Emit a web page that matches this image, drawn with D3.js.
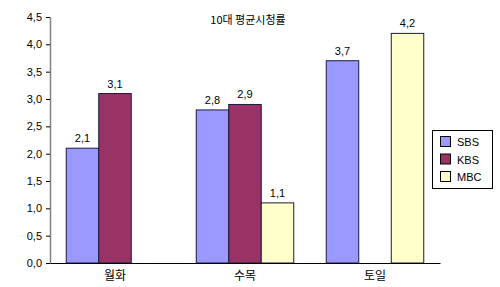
<!DOCTYPE html>
<html><head><meta charset="utf-8">
<script src="https://cdn.jsdelivr.net/npm/d3@7"></script>
<style>body{margin:0;background:#fff}svg{display:block}</style>
</head><body>
<script>
const categories = ["월화", "수목", "토일"];
const seriesNames = ["SBS", "KBS", "MBC"];
const sbsValues = [2.1, 2.8, 3.7];
const kbsValues = [3.1, 2.9, null];
const mbcValues = [null, 1.1, 4.2];
const yTicks = [0, 0.5, 1.0, 1.5, 2.0, 2.5, 3.0, 3.5, 4.0, 4.5];
const title = "10대 평균시청률";
const colors = ["#9999FF", "#993366", "#FFFFCC"];

const W = 500, H = 287;
const svg = d3.select("body").append("svg").attr("width", W).attr("height", H);
const x0 = d3.scaleBand().domain(categories).range([50, 440]).paddingInner(0).paddingOuter(0);
const x1 = d3.scaleBand().domain(seriesNames).range([16.25, 130 - 16.25]);
const y = d3.scaleLinear().domain([0, 4.5]).range([263, 17]);
const fmt = v => d3.format(".1f")(v).replace(".", ",");
const numFont = "Liberation Sans, Arial, sans-serif";
const krFont = "Noto Sans CJK KR, sans-serif";

// y axis
const yAxis = d3.axisLeft(y).tickValues(yTicks).tickSize(4).tickSizeOuter(0).tickFormat(fmt).tickPadding(4);
const ga = svg.append("g").attr("transform", "translate(50,0)").call(yAxis);
ga.select(".domain").attr("stroke", "#808080").attr("stroke-width", 1.5);
ga.selectAll(".tick line").attr("stroke", "#000");
ga.selectAll(".tick text").attr("font-family", numFont).attr("font-size", 11).attr("fill", "#000");

const allSeries = [sbsValues, kbsValues, mbcValues];
const data = [];
categories.forEach((c, i) => seriesNames.forEach((s, j) => {
  const v = allSeries[j][i];
  if (v != null) data.push({c, s, v, j});
}));

svg.append("g").selectAll("rect").data(data).join("rect")
  .attr("x", d => x0(d.c) + x1(d.s))
  .attr("y", d => y(d.v))
  .attr("width", x1.bandwidth())
  .attr("height", d => y(0) - y(d.v))
  .attr("fill", d => colors[d.j])
  .attr("stroke", "#1a1a40").attr("stroke-width", 1);

svg.append("g").selectAll("text").data(data).join("text")
  .attr("x", d => x0(d.c) + x1(d.s) + x1.bandwidth() / 2)
  .attr("y", d => y(d.v) - 6)
  .attr("text-anchor", "middle")
  .attr("font-family", numFont).attr("font-size", 11)
  .text(d => fmt(d.v));

// x axis baseline
const xAxis = d3.axisBottom(x0).tickSize(0).tickPadding(8);
const gx = svg.append("g").attr("transform", "translate(0,263)").call(xAxis);
gx.select(".domain").attr("stroke", "#000").attr("stroke-width", 1.2);
gx.selectAll(".tick text").attr("font-family", krFont).attr("font-size", 12).attr("fill", "#000");

// title
svg.append("text").attr("x", 248).attr("y", 24).attr("text-anchor", "middle")
  .attr("font-family", krFont).attr("font-size", 11).text(title);

// legend
const lg = svg.append("g");
lg.append("rect").attr("x", 432.5).attr("y", 130.5).attr("width", 60).attr("height", 58)
  .attr("fill", "#fff").attr("stroke", "#000");
seriesNames.forEach((s, i) => {
  lg.append("rect").attr("x", 440.5).attr("y", 136.5 + i * 17.5).attr("width", 10).attr("height", 10)
    .attr("fill", colors[i]).attr("stroke", "#000");
  lg.append("text").attr("x", 457).attr("y", 146 + i * 17.5)
    .attr("font-family", numFont).attr("font-size", 11).text(s);
});
</script>
</body></html>
